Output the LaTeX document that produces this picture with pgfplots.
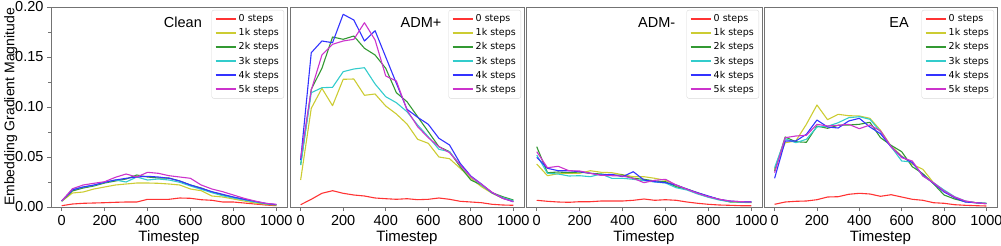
\documentclass[border=0pt]{standalone}
\usepackage{pgfplots}
\pgfplotsset{compat=1.18}
\usepackage{pgfplotstable}
\usepackage{fontspec}
\setmainfont{Liberation Sans}
\newfontfamily\legfont{DejaVu Sans}
\definecolor{mplred}{HTML}{FF3333}
\definecolor{mplyellow}{HTML}{CCCC33}
\definecolor{mplgreen}{HTML}{339933}
\definecolor{mplcyan}{HTML}{33CCCC}
\definecolor{mplblue}{HTML}{3333FF}
\definecolor{mplmagenta}{HTML}{CC33CC}

\pgfplotstableread{
t r y g c b m
0 0.0013 0.0057 0.006 0.006 0.006 0.006
50 0.003 0.014 0.016 0.0177 0.017 0.0183
100 0.0037 0.015 0.019 0.020 0.020 0.022
150 0.004 0.018 0.021 0.0217 0.022 0.0237
200 0.0043 0.020 0.024 0.0247 0.0247 0.0253
250 0.0047 0.022 0.026 0.027 0.027 0.0297
300 0.005 0.023 0.028 0.025 0.0287 0.033
350 0.005 0.024 0.032 0.030 0.030 0.030
400 0.0077 0.024 0.030 0.027 0.0307 0.0347
450 0.0077 0.0237 0.029 0.028 0.030 0.0337
500 0.0077 0.023 0.029 0.027 0.0287 0.0313
550 0.009 0.022 0.026 0.0247 0.026 0.030
600 0.0087 0.018 0.022 0.021 0.022 0.0287
650 0.0073 0.0163 0.019 0.0177 0.0187 0.022
700 0.0067 0.011 0.015 0.0143 0.0153 0.018
750 0.005 0.010 0.012 0.0113 0.0127 0.0153
800 0.005 0.008 0.0097 0.009 0.010 0.012
850 0.004 0.006 0.0077 0.007 0.0077 0.0087
900 0.003 0.004 0.0053 0.005 0.0057 0.006
950 0.002 0.0027 0.0033 0.0033 0.0037 0.0037
1000 0.0013 0.0017 0.002 0.0023 0.0023 0.0027
}\clean

\pgfplotstableread{
t r y g c b m
0 0.0023 0.027 0.042 0.042 0.047 0.0487
50 0.0077 0.0987 0.1177 0.1143 0.1543 0.117
100 0.0137 0.1187 0.1387 0.1193 0.166 0.152
150 0.0163 0.1013 0.170 0.1197 0.1643 0.1627
200 0.0137 0.1277 0.1677 0.1353 0.1927 0.166
250 0.012 0.128 0.171 0.138 0.187 0.1677
300 0.011 0.1117 0.1587 0.1393 0.166 0.1843
350 0.009 0.113 0.152 0.123 0.1763 0.167
400 0.0083 0.101 0.1387 0.1103 0.150 0.131
450 0.0077 0.093 0.1143 0.1043 0.1237 0.126
500 0.0083 0.083 0.1053 0.0953 0.0977 0.097
550 0.0073 0.0677 0.0903 0.082 0.0897 0.0803
600 0.0077 0.0637 0.0753 0.0703 0.0827 0.0693
650 0.009 0.050 0.0603 0.0577 0.0687 0.0603
700 0.0077 0.0483 0.0553 0.0553 0.062 0.0543
750 0.0057 0.0387 0.0403 0.042 0.0437 0.042
800 0.005 0.0287 0.027 0.0303 0.031 0.0303
850 0.0043 0.0203 0.022 0.022 0.023 0.0227
900 0.0027 0.0137 0.0143 0.0143 0.0143 0.0147
950 0.002 0.0087 0.0103 0.0093 0.0087 0.0087
1000 0.0017 0.006 0.007 0.0063 0.0053 0.0053
}\admp

\pgfplotstableread{
t r y g c b m
0 0.0067 0.043 0.0603 0.052 0.0497 0.0553
50 0.0057 0.0313 0.0343 0.0337 0.0387 0.0393
100 0.005 0.0333 0.035 0.033 0.0363 0.0407
150 0.0047 0.0337 0.0343 0.031 0.0363 0.0363
200 0.0053 0.0337 0.035 0.0313 0.0353 0.036
250 0.0053 0.0363 0.0337 0.0303 0.0337 0.0337
300 0.006 0.0347 0.033 0.033 0.032 0.0317
350 0.006 0.0343 0.0317 0.0287 0.0327 0.0313
400 0.006 0.0323 0.032 0.0287 0.0303 0.031
450 0.0067 0.0303 0.0287 0.0277 0.0353 0.0287
500 0.008 0.0303 0.0277 0.0263 0.027 0.0243
550 0.0067 0.0287 0.026 0.025 0.0253 0.0267
600 0.0073 0.0267 0.0253 0.024 0.0243 0.0277
650 0.0067 0.0217 0.0203 0.0193 0.022 0.022
700 0.005 0.018 0.0177 0.017 0.018 0.0177
750 0.0037 0.0143 0.0137 0.013 0.0143 0.0137
800 0.0027 0.0103 0.0103 0.0097 0.011 0.0103
850 0.002 0.0077 0.0077 0.007 0.0077 0.0077
900 0.0017 0.005 0.0053 0.0053 0.006 0.006
950 0.0013 0.0047 0.005 0.005 0.0053 0.0053
1000 0.0013 0.0043 0.0047 0.005 0.0053 0.005
}\admm

\pgfplotstableread{
t r y g c b m
0 0.0027 0.0377 0.036 0.0393 0.0287 0.0343
50 0.005 0.0643 0.070 0.0683 0.066 0.0693
100 0.0057 0.066 0.0653 0.0643 0.066 0.071
150 0.006 0.0827 0.0647 0.0677 0.0727 0.0717
200 0.0073 0.102 0.081 0.080 0.087 0.0827
250 0.010 0.0873 0.0787 0.0807 0.080 0.081
300 0.0103 0.0927 0.0817 0.0843 0.079 0.0817
350 0.0127 0.0913 0.082 0.0893 0.086 0.0827
400 0.0137 0.091 0.0827 0.0903 0.0887 0.0783
450 0.013 0.0887 0.0847 0.0877 0.080 0.082
500 0.0107 0.0767 0.0693 0.0753 0.0733 0.076
550 0.0123 0.061 0.0617 0.0603 0.060 0.0603
600 0.010 0.051 0.0553 0.046 0.0503 0.0493
650 0.0077 0.0427 0.0403 0.045 0.0443 0.046
700 0.0067 0.0377 0.0333 0.031 0.032 0.031
750 0.0043 0.0243 0.0233 0.0243 0.0237 0.0243
800 0.0037 0.016 0.012 0.017 0.015 0.016
850 0.0023 0.0093 0.008 0.0103 0.0093 0.010
900 0.0017 0.0057 0.0053 0.006 0.005 0.006
950 0.0013 0.0043 0.0043 0.0043 0.0043 0.0043
1000 0.001 0.0033 0.0037 0.0037 0.0033 0.0033
}\ea

\pgfplotsset{
  legend image code/.code={\draw[#1, line width=2pt] (0pt,0pt) -- (20pt,0pt);},
}
\pgfplotsset{
  panel/.style={
    scale only axis, width=#1, height=200pt,
    anchor=north west,
    xmin=-50, xmax=1050, ymin=0, ymax=0.2,
    xtick={0,200,400,600,800,1000},
    ytick={0,0.05,0.1,0.15,0.2},
    minor ytick={0.025,0.075,0.125,0.175},
    axis line style={draw=black!55, line width=0.9pt},
    tick style={draw=black!55, line width=0.8pt},
    tick align=outside, xtick pos=bottom, ytick pos=left,
    major tick length=4pt, minor tick length=2.5pt,
    /pgf/number format/assume math mode=true,
    tick label style={font=\fontsize{14.5}{14.5}\selectfont},
    xticklabel style={yshift=-1pt, /pgf/number format/1000 sep={}},
    xlabel={Timestep},
    xlabel style={font=\fontsize{15}{15}\selectfont, yshift=2pt},
    legend cell align=left,
    legend style={at={(1,1)}, anchor=north east, xshift=-3pt, yshift=-3pt,
      draw=black!15, rounded corners=2pt, font=\legfont\fontsize{9.5}{9.5}\selectfont,
      row sep=1.4pt, inner xsep=3pt, inner ysep=2.5pt},
    every axis plot/.append style={line width=1.1pt, line join=round, mark=none},
  },
  noy/.style={ytick=\empty, minor ytick=\empty},
}

\newcommand\series[1]{%
  \addplot[mplred] table[x=t, y=r] {#1};
  \addplot[mplyellow] table[x=t, y=y] {#1};
  \addplot[mplgreen] table[x=t, y=g] {#1};
  \addplot[mplcyan] table[x=t, y=c] {#1};
  \addplot[mplblue] table[x=t, y=b] {#1};
  \addplot[mplmagenta] table[x=t, y=m] {#1};
  \legend{0 steps,1k steps,2k steps,3k steps,4k steps,5k steps}
}

\begin{document}
\begin{tikzpicture}
\path[use as bounding box] (0,0) rectangle (1001pt,-246pt);

\begin{axis}[panel=236pt, at={(51pt,-7pt)},
  ylabel={Embedding Gradient Magnitude},
  ylabel style={font=\fontsize{14}{14}\selectfont, yshift=-9pt},
  yticklabel style={/pgf/number format/.cd, fixed, fixed zerofill, precision=2}]
\series{\clean}
\node[anchor=base, font=\fontsize{14.5}{14.5}\selectfont] at (rel axis cs:0.559,0.895) {Clean};
\end{axis}

\begin{axis}[panel=234pt, at={(290pt,-7pt)}, noy]
\series{\admp}
\node[anchor=base, font=\fontsize{14.5}{14.5}\selectfont] at (rel axis cs:0.56,0.895) {ADM+};
\end{axis}

\begin{axis}[panel=236pt, at={(526pt,-7pt)}, noy]
\series{\admm}
\node[anchor=base, font=\fontsize{14.5}{14.5}\selectfont] at (rel axis cs:0.554,0.895) {ADM-};
\end{axis}

\begin{axis}[panel=233pt, at={(764pt,-7pt)}, noy]
\series{\ea}
\node[anchor=base, font=\fontsize{14.5}{14.5}\selectfont] at (rel axis cs:0.58,0.895) {EA};
\end{axis}
\end{tikzpicture}
\end{document}
